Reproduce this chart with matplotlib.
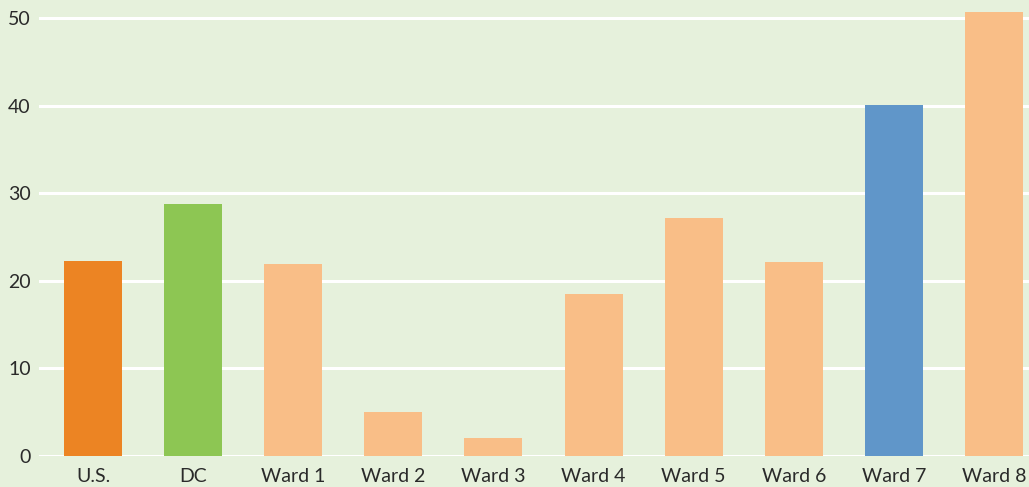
import matplotlib
matplotlib.use("Agg")
import matplotlib.pyplot as plt

categories = ["U.S.", "DC", "Ward 1", "Ward 2", "Ward 3", "Ward 4", "Ward 5", "Ward 6", "Ward 7", "Ward 8"]
values = [22.3, 28.8, 21.9, 5.0, 2.0, 18.5, 27.2, 22.1, 40.1, 50.7]
colors = ["#EC8423", "#8DC653", "#F9BE87", "#F9BE87", "#F9BE87", "#F9BE87",
          "#F9BE87", "#F9BE87", "#6096C9", "#F9BE87"]
yticks = [0, 10, 20, 30, 40, 50]

bg = "#E6F1DC"
plt.rcParams['font.family'] = ['Lato', 'DejaVu Sans']

fig = plt.figure(figsize=(10.29, 4.87), dpi=100, facecolor=bg)
ax = fig.add_axes([0.0379, 0.0643, 1 - 0.0379, 1 - 0.0643])
ax.set_facecolor(bg)

x = list(range(len(categories)))
ax.bar(x, values, width=0.58, color=colors, zorder=3)

ax.set_xlim(-0.54, 9.35)
ax.set_ylim(0, 52.08)
ax.set_yticks(yticks)
ax.set_xticks(x)
ax.set_xticklabels(categories)
ax.grid(axis='y', color='white', linewidth=2.2, zorder=1)
ax.set_axisbelow(True)
for s in ax.spines.values():
    s.set_visible(False)
ax.tick_params(axis='both', length=0, labelsize=14, labelcolor='#2a2a2a')
ax.tick_params(axis='y', pad=6)
ax.tick_params(axis='x', pad=9)

fig.savefig("out.png", dpi=100, facecolor=bg)
